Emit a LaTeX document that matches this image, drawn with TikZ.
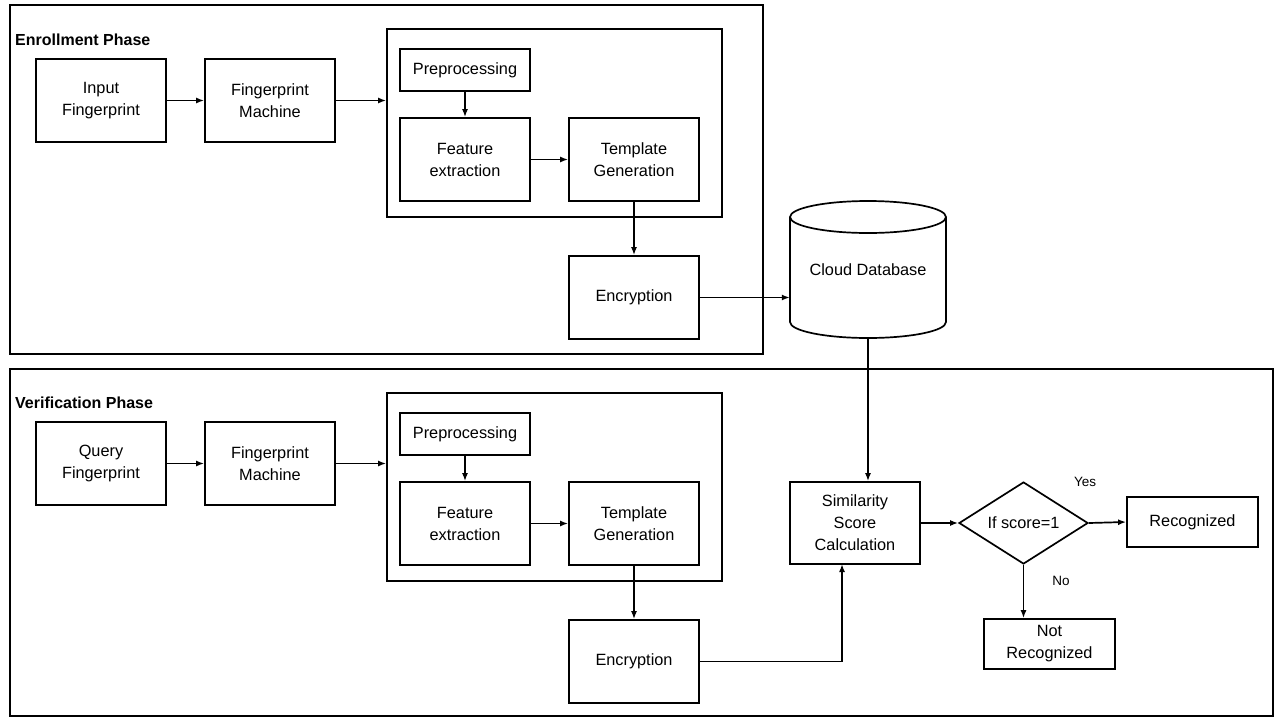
\documentclass[tikz,border=0pt]{standalone}
\usepackage{fontspec}
\setmainfont{Liberation Sans}
\usetikzlibrary{arrows.meta,shapes.geometric,calc}
\begin{document}
\begin{tikzpicture}[x=1pt,y=-1pt,
  every node/.style={font=\fontsize{16.3}{22}\selectfont},
  box/.style={draw,line width=1.7pt,minimum width=130pt,minimum height=83pt,align=center,inner sep=0pt},
  smallbox/.style={box,minimum height=42pt},
  resbox/.style={box,minimum width=131pt,minimum height=50pt},
  group/.style={draw,line width=1.7pt,minimum width=335pt,minimum height=188pt,inner sep=0pt},
  phase/.style={draw,line width=1.7pt},
  title/.style={font=\fontsize{16}{19}\selectfont\bfseries,anchor=west,inner sep=0pt},
  lab/.style={font=\fontsize{13.5}{16}\selectfont,inner sep=0pt},
  arr/.style={line width=1.7pt,-{Latex[length=8pt,width=6pt]}},
  ln/.style={line width=1.7pt}]
\useasboundingbox (0,0) rectangle (1276,718);
\fill[white] (0,0) rectangle (1276,718);
% phase frames
\draw[phase] (10,5) rectangle (763,354);
\draw[phase] (10,369) rectangle (1273,716);
\node[title] (t1) at (15,40) {Enrollment Phase};
\node[title] (t2) at (15,403) {Verification Phase};
% enrollment
\node[box] (in1) at (101,100.5) {Input\\Fingerprint};
\node[box] (fm1) at (270,100.5) {Fingerprint\\Machine};
\node[group] (grp1) at (554.5,123) {};
\node[smallbox] (pre1) at (465,70) {Preprocessing};
\node[box] (fe1) at (465,159.5) {Feature\\extraction};
\node[box] (tg1) at (634,159.5) {Template\\Generation};
\node[box] (enc1) at (634,297.5) {Encryption};
% cloud database
\node[minimum width=156pt,minimum height=137pt,inner sep=0pt] (cdb) at (868,269.5) {Cloud Database};
\draw[ln] (790,217) -- (790,322) arc[start angle=180,end angle=0,x radius=78,y radius=16] -- (946,217);
\draw[ln] (868,217) ellipse [x radius=78,y radius=16];
% verification
\node[box] (q2) at (101,463.5) {Query\\Fingerprint};
\node[box] (fm2) at (270,463.5) {Fingerprint\\Machine};
\node[group] (grp2) at (554.5,487) {};
\node[smallbox] (pre2) at (465,434) {Preprocessing};
\node[box] (fe2) at (465,523.5) {Feature\\extraction};
\node[box] (tg2) at (634,523.5) {Template\\Generation};
\node[box] (enc2) at (634,661.5) {Encryption};
\node[box,minimum height=82pt] (sim) at (855,523) {Similarity\\Score\\Calculation};
\node[draw,diamond,line width=1.7pt,minimum width=129pt,minimum height=82pt,aspect=1.57,inner sep=0pt] (dia) at (1023.5,523) {If score=1};
\node[resbox] (rec) at (1192.5,522) {Recognized};
\node[resbox] (nrec) at (1049.5,644) {Not\\Recognized};
\node[lab] (yes) at (1085,482) {Yes};
\node[lab] (no) at (1061,581) {No};
\coordinate (j) at (842,564);
% connectors enrollment
\draw[arr] (in1) -- (fm1);
\draw[arr] (fm1.east) -- (fm1.east -| grp1.west);
\draw[arr] (pre1) -- (fe1);
\draw[arr] (fe1) -- (tg1);
\draw[arr] (tg1) -- (enc1);
\draw[arr] (enc1.east) -- (enc1.east -| cdb.west);
% connectors verification
\draw[arr] (q2) -- (fm2);
\draw[arr] (fm2.east) -- (fm2.east -| grp2.west);
\draw[arr] (pre2) -- (fe2);
\draw[arr] (fe2) -- (tg2);
\draw[arr] (tg2) -- (enc2);
\draw[arr] (cdb.south) -- (cdb.south |- sim.north);
\draw[arr] (enc2.east) -| (j);
\draw[arr] (sim) -- (dia);
\draw[arr] (dia.east) -- (rec.west);
\draw[arr] (dia.south) -- (dia.south |- nrec.north);
\end{tikzpicture}
\end{document}
